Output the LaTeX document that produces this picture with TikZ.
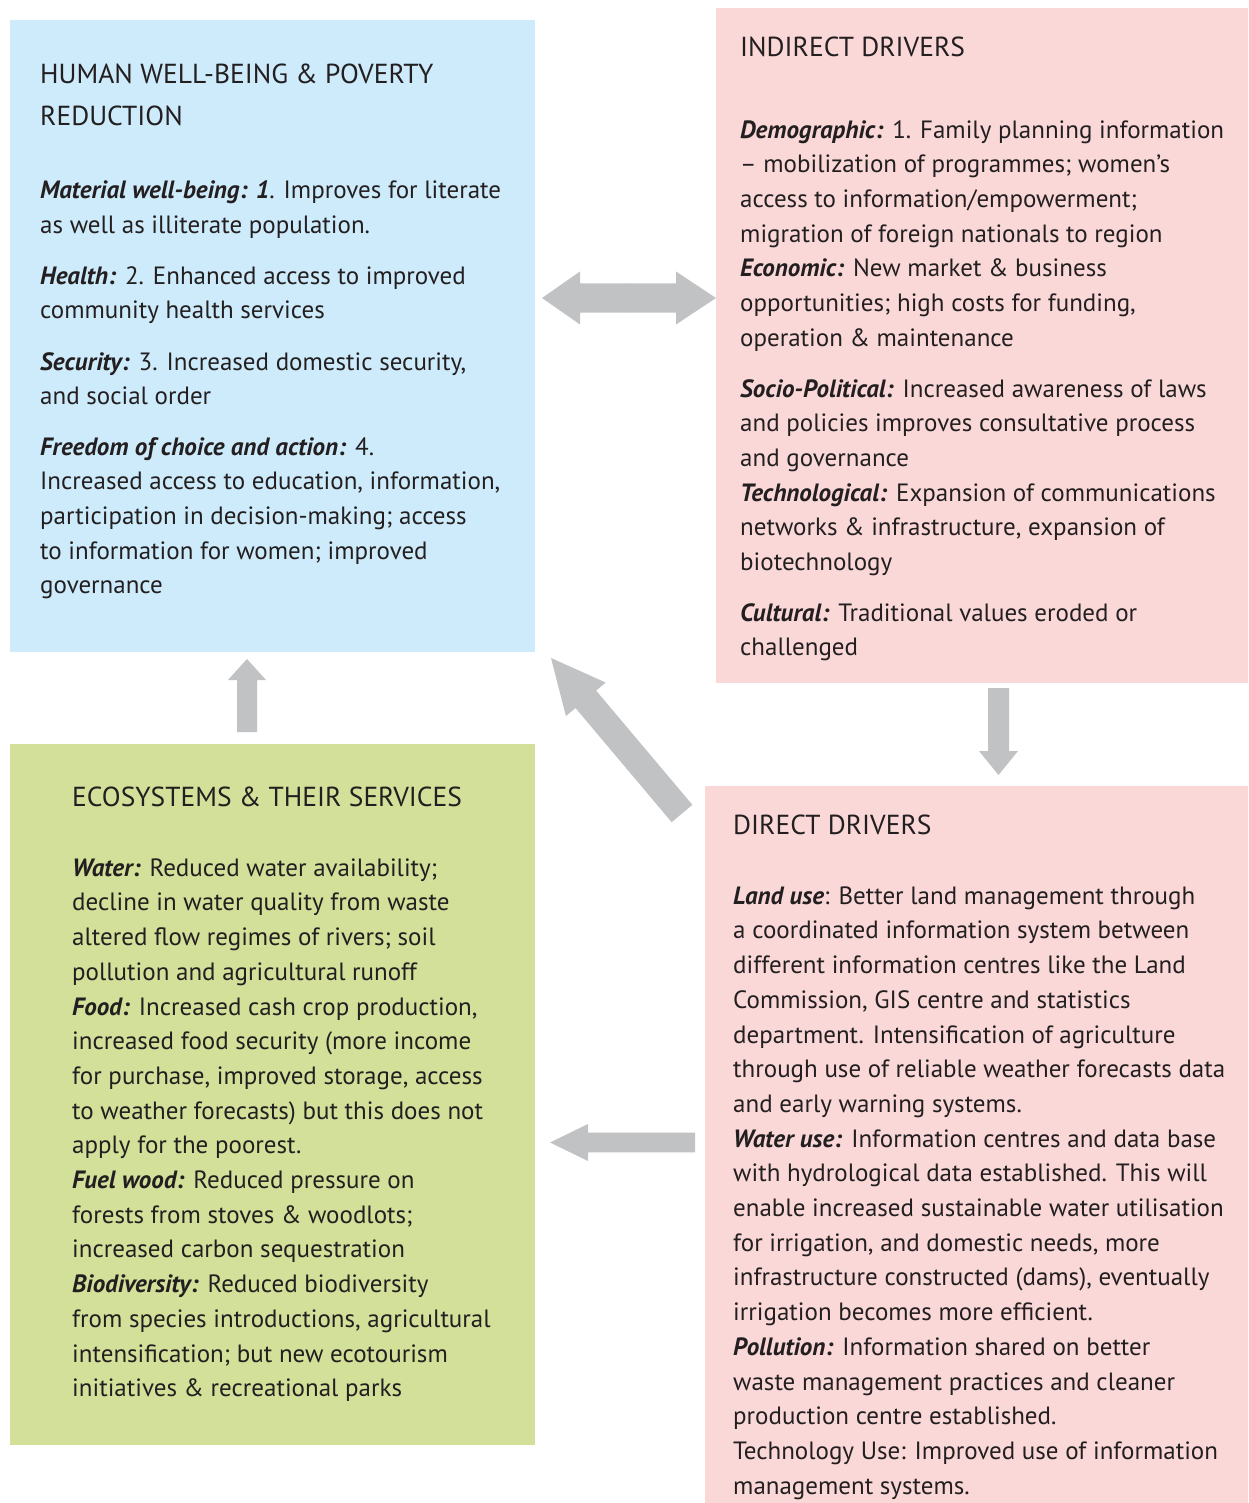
\documentclass[tikz,border=0pt]{standalone}
\usepackage{fontspec}
\setmainfont{PT Sans}
\usetikzlibrary{calc}
\definecolor{bluebox}{RGB}{205,235,251}
\definecolor{pinkbox}{RGB}{250,216,216}
\definecolor{greenbox}{RGB}{210,224,153}
\definecolor{arrowgray}{RGB}{193,194,196}
\definecolor{txtcol}{RGB}{35,31,32}
\newcommand{\lbl}[1]{\textbf{\textit{#1}}}
\newcommand{\blockarrow}[5]{%
  \coordinate (hb) at ($(#2)!#5pt!(#1)$);
  \fill[arrowgray] ($(#1)!#3pt!90:(#2)$) -- ($(hb)!#3pt!90:(#2)$) -- ($(hb)!#4pt!90:(#2)$) -- (#2)
     -- ($(hb)!#4pt!-90:(#2)$) -- ($(hb)!#3pt!-90:(#2)$) -- ($(#1)!#3pt!-90:(#2)$) -- cycle;}
\begin{document}
\begin{tikzpicture}[x=1pt,y=-1pt,
  box/.style={draw=none, anchor=north west, inner sep=0pt, outer sep=0pt},
  txt/.style={anchor=north west, inner sep=0pt, align=left, text=txtcol,
    font=\fontsize{25}{34.7}\selectfont},
  ttl/.style={anchor=north west, inner sep=0pt, align=left, text=txtcol,
    font=\fontsize{27.5}{42}\selectfont}]
\useasboundingbox (0,0) rectangle (1248,1503);
\fill[white] (0,0) rectangle (1248,1503);

% boxes
\node[box, fill=bluebox, minimum width=525pt, minimum height=632pt] (wb) at (10,20) {};
\node[box, fill=pinkbox, minimum width=532pt, minimum height=675pt] (ind) at (716,8) {};
\node[box, fill=greenbox, minimum width=525pt, minimum height=701pt] (eco) at (10,744) {};
\node[box, fill=pinkbox, minimum width=543pt, minimum height=717pt] (dir) at (705,786) {};

% arrows
\coordinate (dmid) at (629,298);
\coordinate (dleft) at (542,298);
\coordinate (dright) at (716,298);
\blockarrow{dmid}{dleft}{14.5}{26.5}{38}
\blockarrow{dmid}{dright}{14.5}{26.5}{40}
\coordinate (diagtail) at (682,813.5);
\coordinate (diagtip) at (551,658);
\blockarrow{diagtail}{diagtip}{13.5}{26}{54}
\coordinate (downtail) at (998.5,688);
\coordinate (downtip) at (998.5,775);
\blockarrow{downtail}{downtip}{10.5}{19.5}{24}
\coordinate (uptail) at (247,732);
\coordinate (uptip) at (247,659);
\blockarrow{uptail}{uptip}{10}{19}{21}
\coordinate (lefttail) at (695,1142.5);
\coordinate (lefttip) at (550,1142.5);
\blockarrow{lefttail}{lefttip}{9.8}{18.5}{38}

% human well-being
\node[ttl] (wbt) at (40,53.6) {\strut HUMAN WELL-BEING \& POVERTY\\REDUCTION};
\node[txt] (wb1) at (40,174) {\strut\lbl{Material well-being: 1}. Improves for literate\\as well as illiterate population.};
\node[txt] (wb2) at (40,259.7) {\strut\lbl{Health:} 2. Enhanced access to improved\\community health services};
\node[txt] (wb3) at (40,345.7) {\strut\lbl{Security:} 3. Increased domestic security,\\and social order};
\node[txt] (wb4) at (40,430.7) {\strut\lbl{Freedom of choice and action:} 4.\\Increased access to education, information,\\participation in decision-making; access\\to information for women; improved\\governance};

% indirect drivers
\node[ttl] (indt) at (740,26.6) {\strut INDIRECT DRIVERS};
\node[txt] (ind1) at (740,113.7) {\strut\lbl{Demographic:} 1. Family planning information\\– mobilization of programmes; women’s\\access to information/empowerment;\\migration of foreign nationals to region\\\lbl{Economic:} New market \& business\\opportunities; high costs for funding,\\operation \& maintenance};
\node[txt] (ind2) at (740,372.7) {\strut\lbl{Socio-Political:} Increased awareness of laws\\and policies improves consultative process\\and governance\\\lbl{Technological:} Expansion of communications\\networks \& infrastructure, expansion of\\biotechnology};
\node[txt] (ind3) at (740,596.7) {\strut\lbl{Cultural:} Traditional values eroded or\\challenged};

% ecosystems
\node[ttl] (ecot) at (72,776.9) {\strut ECOSYSTEMS \& THEIR SERVICES};
\node[txt] (eco1) at (72,851.7) {\strut\lbl{Water:} Reduced water availability;\\decline in water quality from waste\\altered flow regimes of rivers; soil\\pollution and agricultural runoff\\\lbl{Food:} Increased cash crop production,\\increased food security (more income\\for purchase, improved storage, access\\to weather forecasts) but this does not\\apply for the poorest.\\\lbl{Fuel wood:} Reduced pressure on\\forests from stoves \& woodlots;\\increased carbon sequestration\\\lbl{Biodiversity:} Reduced biodiversity\\from species introductions, agricultural\\intensification; but new ecotourism\\initiatives \& recreational parks};

% direct drivers
\node[ttl] (dirt) at (733,804.9) {\strut DIRECT DRIVERS};
\node[txt] (dir1) at (733,879.7) {\strut\lbl{Land use}: Better land management through\\a coordinated information system between\\different information centres like the Land\\Commission, GIS centre and statistics\\department. Intensification of agriculture\\through use of reliable weather forecasts data\\and early warning systems.\\\lbl{Water use:} Information centres and data base\\with hydrological data established. This will\\enable increased sustainable water utilisation\\for irrigation, and domestic needs, more\\infrastructure constructed (dams), eventually\\irrigation becomes more efficient.\\\lbl{Pollution:} Information shared on better\\waste management practices and cleaner\\production centre established.\\Technology Use: Improved use of information\\management systems.};
\end{tikzpicture}
\end{document}
